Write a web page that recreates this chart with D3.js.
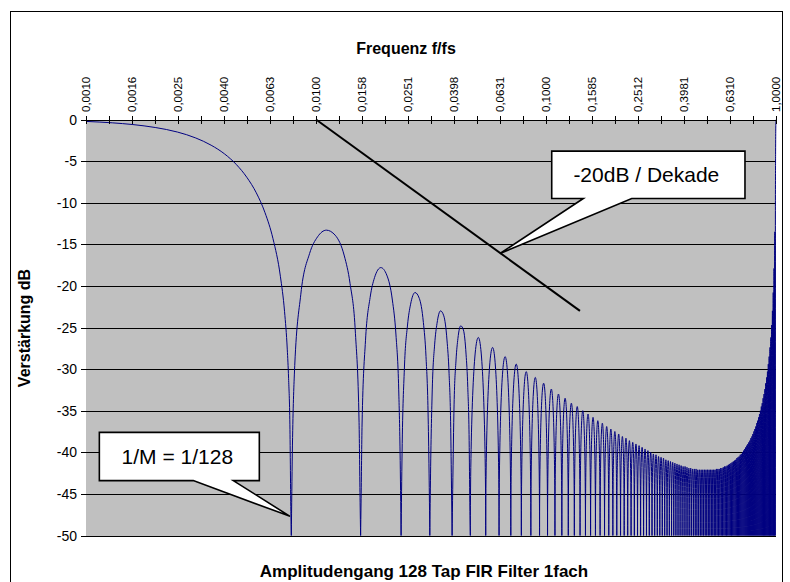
<!DOCTYPE html>
<html>
<head>
<meta charset="utf-8" />
<title>Amplitudengang 128 Tap FIR Filter 1fach</title>
<style>
html, body {
    margin: 0px;
    padding: 0px;
    background: #fff;
}
svg text {
    font-family: "Liberation Sans", Arial, sans-serif;
}
</style>
</head>
<body>
<svg id="chart" width="790" height="582"></svg>

<script src="https://cdnjs.cloudflare.com/ajax/libs/d3/7.8.5/d3.min.js"></script>
<script>
!(function(){
    "use strict";

    // x axis (log, f/fs), labels as printed
    var freqTicks = [0.001, 0.001585, 0.002512, 0.003981, 0.00631, 0.01, 0.015849, 0.025119, 0.039811, 0.063096,
                     0.1, 0.158489, 0.251189, 0.398107, 0.630957, 1];
    var freqTickLabels = ["0,0010", "0,0016", "0,0025", "0,0040", "0,0063", "0,0100", "0,0158", "0,0251", "0,0398", "0,0631",
                          "0,1000", "0,1585", "0,2512", "0,3981", "0,6310", "1,0000"];
    var freqMinorTicks = [0.001259, 0.001995, 0.003162, 0.005012, 0.007943, 0.012589, 0.019953, 0.031623, 0.050119,
                          0.079433, 0.125893, 0.199526, 0.316228, 0.501187, 0.794328];
    var dbTicks = [0, -5, -10, -15, -20, -25, -30, -35, -40, -45, -50];

    // main lobe [f, dB]
    var mainLobe = [[0.001, -0.23], [0.0013, -0.40], [0.0016, -0.61], [0.002, -0.96], [0.0025, -1.51], [0.003, -2.22],
                    [0.0035, -3.09], [0.004, -4.13], [0.0045, -5.40], [0.005, -6.94], [0.0055, -8.81], [0.006, -11.19],
                    [0.0065, -14.32], [0.007, -18.84], [0.0073, -23.1], [0.0075, -27.6], [0.0076, -31.1], [0.0077, -36.7],
                    [0.00778, -47.6], [0.00781, -50]];

    // first five side lobes, traced point by point
    var nearLobes = [
        [[0.00781, -50], [0.00789, -40.1], [0.00805, -30.7], [0.00859, -21.0], [0.00938, -16.1], [0.01016, -14.1], [0.01109, -13.3],
         [0.01211, -13.9], [0.01328, -16.4], [0.01406, -19.7], [0.01484, -25.7], [0.01539, -36.4], [0.01555, -46.0], [0.01563, -50]],
        [[0.01563, -50], [0.0157, -46.1], [0.01586, -36.6], [0.01641, -26.6], [0.01719, -21.4], [0.01797, -19.0], [0.01914, -17.8],
         [0.02031, -18.7], [0.02148, -21.7], [0.02227, -25.9], [0.02289, -32.5], [0.0232, -39.9], [0.02344, -50]],
        [[0.02344, -50], [0.02367, -40.1], [0.02422, -30.0], [0.025, -24.7], [0.02578, -22.2], [0.02695, -20.8], [0.02813, -21.5],
         [0.0293, -24.4], [0.03008, -28.5], [0.0307, -35.1], [0.03102, -42.5], [0.03125, -50]],
        [[0.03125, -50], [0.03148, -42.6], [0.03203, -32.4], [0.03281, -27.0], [0.03359, -24.5], [0.03477, -23.0], [0.03594, -23.6],
         [0.03711, -26.5], [0.03789, -30.5], [0.03852, -37.0], [0.03883, -44.4], [0.03906, -50]],
        [[0.03906, -50], [0.0393, -44.5], [0.03984, -34.3], [0.04063, -28.9], [0.04141, -26.3], [0.04258, -24.8], [0.04375, -25.3],
         [0.04492, -28.2], [0.0457, -32.2], [0.04633, -38.6], [0.04664, -46.0], [0.04688, -50]]
    ];

    // zeros of the response (null 1 .. null 127)
    var nullFreq = [0.00781, 0.01563, 0.02344, 0.03125, 0.03906, 0.04688, 0.05469, 0.0625, 0.07031, 0.07813,
        0.08594, 0.09375, 0.10156, 0.10938, 0.11719, 0.125, 0.13281, 0.14063, 0.14844, 0.15625,
        0.16406, 0.17188, 0.17969, 0.1875, 0.19531, 0.20313, 0.21094, 0.21875, 0.22656, 0.23438,
        0.24219, 0.25, 0.25781, 0.26563, 0.27344, 0.28125, 0.28906, 0.29688, 0.30469, 0.3125,
        0.32031, 0.32813, 0.33594, 0.34375, 0.35156, 0.35938, 0.36719, 0.375, 0.38281, 0.39063,
        0.39844, 0.40625, 0.41406, 0.42188, 0.42969, 0.4375, 0.44531, 0.45313, 0.46094, 0.46875,
        0.47656, 0.48438, 0.49219, 0.5, 0.50781, 0.51563, 0.52344, 0.53125, 0.53906, 0.54688,
        0.55469, 0.5625, 0.57031, 0.57813, 0.58594, 0.59375, 0.60156, 0.60938, 0.61719, 0.625,
        0.63281, 0.64063, 0.64844, 0.65625, 0.66406, 0.67188, 0.67969, 0.6875, 0.69531, 0.70313,
        0.71094, 0.71875, 0.72656, 0.73438, 0.74219, 0.75, 0.75781, 0.76563, 0.77344, 0.78125,
        0.78906, 0.79688, 0.80469, 0.8125, 0.82031, 0.82813, 0.83594, 0.84375, 0.85156, 0.85938,
        0.86719, 0.875, 0.88281, 0.89063, 0.89844, 0.90625, 0.91406, 0.92188, 0.92969, 0.9375,
        0.94531, 0.95313, 0.96094, 0.96875, 0.97656, 0.98438, 0.99219];

    // side lobes 6 .. 126: peak position and peak level
    var lobeFreq = [0.05078, 0.05859, 0.06641, 0.07422, 0.08203, 0.08984, 0.09766, 0.10547, 0.11328, 0.12109,
        0.12891, 0.13672, 0.14453, 0.15234, 0.16016, 0.16797, 0.17578, 0.18359, 0.19141, 0.19922,
        0.20703, 0.21484, 0.22266, 0.23047, 0.23828, 0.24609, 0.25391, 0.26172, 0.26953, 0.27734,
        0.28516, 0.29297, 0.30078, 0.30859, 0.31641, 0.32422, 0.33203, 0.33984, 0.34766, 0.35547,
        0.36328, 0.37109, 0.37891, 0.38672, 0.39453, 0.40234, 0.41016, 0.41797, 0.42578, 0.43359,
        0.44141, 0.44922, 0.45703, 0.46484, 0.47266, 0.48047, 0.48828, 0.49609, 0.50391, 0.51172,
        0.51953, 0.52734, 0.53516, 0.54297, 0.55078, 0.55859, 0.56641, 0.57422, 0.58203, 0.58984,
        0.59766, 0.60547, 0.61328, 0.62109, 0.62891, 0.63672, 0.64453, 0.65234, 0.66016, 0.66797,
        0.67578, 0.68359, 0.69141, 0.69922, 0.70703, 0.71484, 0.72266, 0.73047, 0.73828, 0.74609,
        0.75391, 0.76172, 0.76953, 0.77734, 0.78516, 0.79297, 0.80078, 0.80859, 0.81641, 0.82422,
        0.83203, 0.83984, 0.84766, 0.85547, 0.86328, 0.87109, 0.87891, 0.88672, 0.89453, 0.90234,
        0.91016, 0.91797, 0.92578, 0.93359, 0.94141, 0.94922, 0.95703, 0.96484, 0.97266, 0.98047,
        0.98828];
    var lobeDb = [-26.2, -27.4, -28.5, -29.4, -30.3, -31.0, -31.7, -32.4, -33.0, -33.5,
        -34.1, -34.5, -35.0, -35.4, -35.8, -36.2, -36.5, -36.9, -37.2, -37.5,
        -37.8, -38.1, -38.3, -38.6, -38.8, -39.0, -39.2, -39.4, -39.6, -39.8,
        -40.0, -40.2, -40.3, -40.5, -40.6, -40.7, -40.9, -41.0, -41.1, -41.2,
        -41.3, -41.4, -41.5, -41.6, -41.7, -41.7, -41.8, -41.9, -41.9, -42.0,
        -42.0, -42.0, -42.1, -42.1, -42.1, -42.1, -42.1, -42.1, -42.1, -42.1,
        -42.1, -42.1, -42.1, -42.1, -42.0, -42.0, -42.0, -41.9, -41.9, -41.8,
        -41.7, -41.7, -41.6, -41.5, -41.4, -41.3, -41.2, -41.1, -41.0, -40.9,
        -40.7, -40.6, -40.5, -40.3, -40.2, -40.0, -39.8, -39.6, -39.4, -39.2,
        -39.0, -38.8, -38.6, -38.3, -38.1, -37.8, -37.5, -37.2, -36.9, -36.5,
        -36.2, -35.8, -35.4, -35.0, -34.5, -34.1, -33.5, -33.0, -32.4, -31.7,
        -31.0, -30.3, -29.4, -28.5, -27.4, -26.2, -24.7, -23.0, -20.8, -17.9,
        -13.5];

    // image of the main lobe at f = 1
    var tailLobe = [[0.99219, -50], [0.99414, -10.5], [0.99609, -3.9], [0.99805, -0.9], [1, 0]];

    // -20 dB per decade reference line
    var slopeLine = [[0.01, 0], [0.1405, -23]];

    var callouts = [
        {text: "-20dB / Dekade", box: [0.1059, -3.8, 0.733, -9.5], base: [0.1453, 0.2359], tip: [0.0631, -16.1]},
        {text: "1/M = 1/128", box: [0.001143, -37.6, 0.00567, -43.4], base: [0.002927, 0.004369], tip: [0.00771, -47.7]}
    ];

    var svg = d3.select("#chart");

    var x = d3.scaleLog().domain([0.001, 1]).range([86, 776]);
    var y = d3.scaleLinear().domain([-50, 0]).range([535.5, 119.5]);

    function py(d) { return Math.round(y(d)) + 0.5; }

    // chart frame
    svg.append("rect")
        .attr("x", 10.5).attr("y", 11.5)
        .attr("width", 772).attr("height", 600)
        .attr("fill", "#fff").attr("stroke", "#000").attr("stroke-width", 1);

    // plot area
    svg.append("rect")
        .attr("x", x(0.001)).attr("y", py(0))
        .attr("width", x(1) - x(0.001)).attr("height", py(-50) - py(0))
        .attr("fill", "#c0c0c0");

    // grid + y ticks
    svg.append("g").selectAll("line")
        .data(dbTicks)
        .enter().append("line")
        .attr("x1", 81).attr("x2", x(1))
        .attr("y1", py).attr("y2", py)
        .attr("stroke", "#000").attr("stroke-width", 1);

    svg.append("g").selectAll("text")
        .data(dbTicks)
        .enter().append("text")
        .attr("x", 77).attr("y", function(d) { return y(d); })
        .attr("dy", "0.36em")
        .attr("text-anchor", "end")
        .attr("font-size", 14)
        .text(function(d) { return d === 0 ? "0" : "-" + Math.abs(d); });

    // response curve
    svg.append("clipPath").attr("id", "plotclip")
        .append("rect")
        .attr("x", x(0.001)).attr("y", py(0) - 1)
        .attr("width", x(1) - x(0.001) + 1).attr("height", py(-50) - py(0) + 1);

    var p = d3.path();
    var smooth = d3.line()
        .x(function(d) { return x(d[0]); })
        .y(function(d) { return y(d[1]); })
        .curve(d3.curveMonotoneX)
        .context(p);

    smooth(mainLobe);
    nearLobes.forEach(function(l) { smooth(l); });

    var c = 0.5523, yb = y(-50);
    p.moveTo(x(nullFreq[5]), yb);
    lobeFreq.forEach(function(f, i) {
        var k = i + 6;
        var xl = x(nullFreq[k - 1]), xr = x(nullFreq[k]);
        var xp = x(f), yp = y(lobeDb[i]);
        p.bezierCurveTo(xl, yb - c * (yb - yp), xp - c * (xp - xl), yp, xp, yp);
        p.bezierCurveTo(xp + c * (xr - xp), yp, xr, yb - c * (yb - yp), xr, yb);
    });
    smooth(tailLobe);

    svg.append("path")
        .attr("d", p.toString())
        .attr("clip-path", "url(#plotclip)")
        .attr("fill", "none")
        .attr("stroke", "#000080")
        .attr("stroke-width", 1)
        .attr("stroke-linejoin", "round");

    // slope line
    svg.append("path")
        .attr("d", d3.line().x(function(d) { return x(d[0]); }).y(function(d) { return y(d[1]); })(slopeLine))
        .attr("stroke", "#000").attr("stroke-width", 2).attr("fill", "none");

    // callouts
    callouts.forEach(function(co) {
        var x0 = x(co.box[0]), y0 = y(co.box[1]), x1 = x(co.box[2]), y1 = y(co.box[3]);
        var b0 = x(co.base[0]), b1 = x(co.base[1]);
        var tx = x(co.tip[0]), ty = y(co.tip[1]);
        var d = "M" + x0 + "," + y0 + "H" + x1 + "V" + y1 + "H" + b1 + "L" + tx + "," + ty +
                "L" + b0 + "," + y1 + "H" + x0 + "Z";
        svg.append("path").attr("d", d)
            .attr("fill", "#fff").attr("stroke", "#000").attr("stroke-width", 1.6)
            .attr("stroke-linejoin", "miter");
        svg.append("text")
            .attr("x", (x0 + x1) / 2 - 2).attr("y", (y0 + y1) / 2)
            .attr("dy", "0.35em")
            .attr("text-anchor", "middle")
            .attr("font-size", 21)
            .text(co.text);
    });

    // top axis with crossing ticks
    var allTicks = freqTicks.concat(freqMinorTicks).sort(d3.ascending);
    var axis = svg.append("g")
        .attr("transform", "translate(0," + (py(0) - 0.5) + ")")
        .call(d3.axisTop(x).tickValues(allTicks).tickSize(4).tickSizeOuter(0).tickFormat(""));
    axis.selectAll(".tick line").attr("y1", 4);
    axis.select(".domain").attr("stroke", "#000");

    svg.append("g").selectAll("text")
        .data(freqTicks)
        .enter().append("text")
        .attr("transform", function(d) { return "translate(" + x(d) + ",112) rotate(-90)"; })
        .attr("dy", "0.36em")
        .attr("font-size", 11.5)
        .text(function(d, i) { return freqTickLabels[i]; });

    // titles
    svg.append("text")
        .attr("x", 406).attr("y", 54)
        .attr("text-anchor", "middle")
        .attr("font-size", 16).attr("font-weight", "bold")
        .text("Frequenz f/fs");

    svg.append("text")
        .attr("transform", "translate(30,328) rotate(-90)")
        .attr("text-anchor", "middle")
        .attr("font-size", 16).attr("font-weight", "bold")
        .text("Verstärkung dB");

    svg.append("text")
        .attr("x", 424).attr("y", 577)
        .attr("text-anchor", "middle")
        .attr("font-size", 17).attr("font-weight", "bold")
        .text("Amplitudengang 128 Tap FIR Filter 1fach");

}());
</script>
</body>
</html>
